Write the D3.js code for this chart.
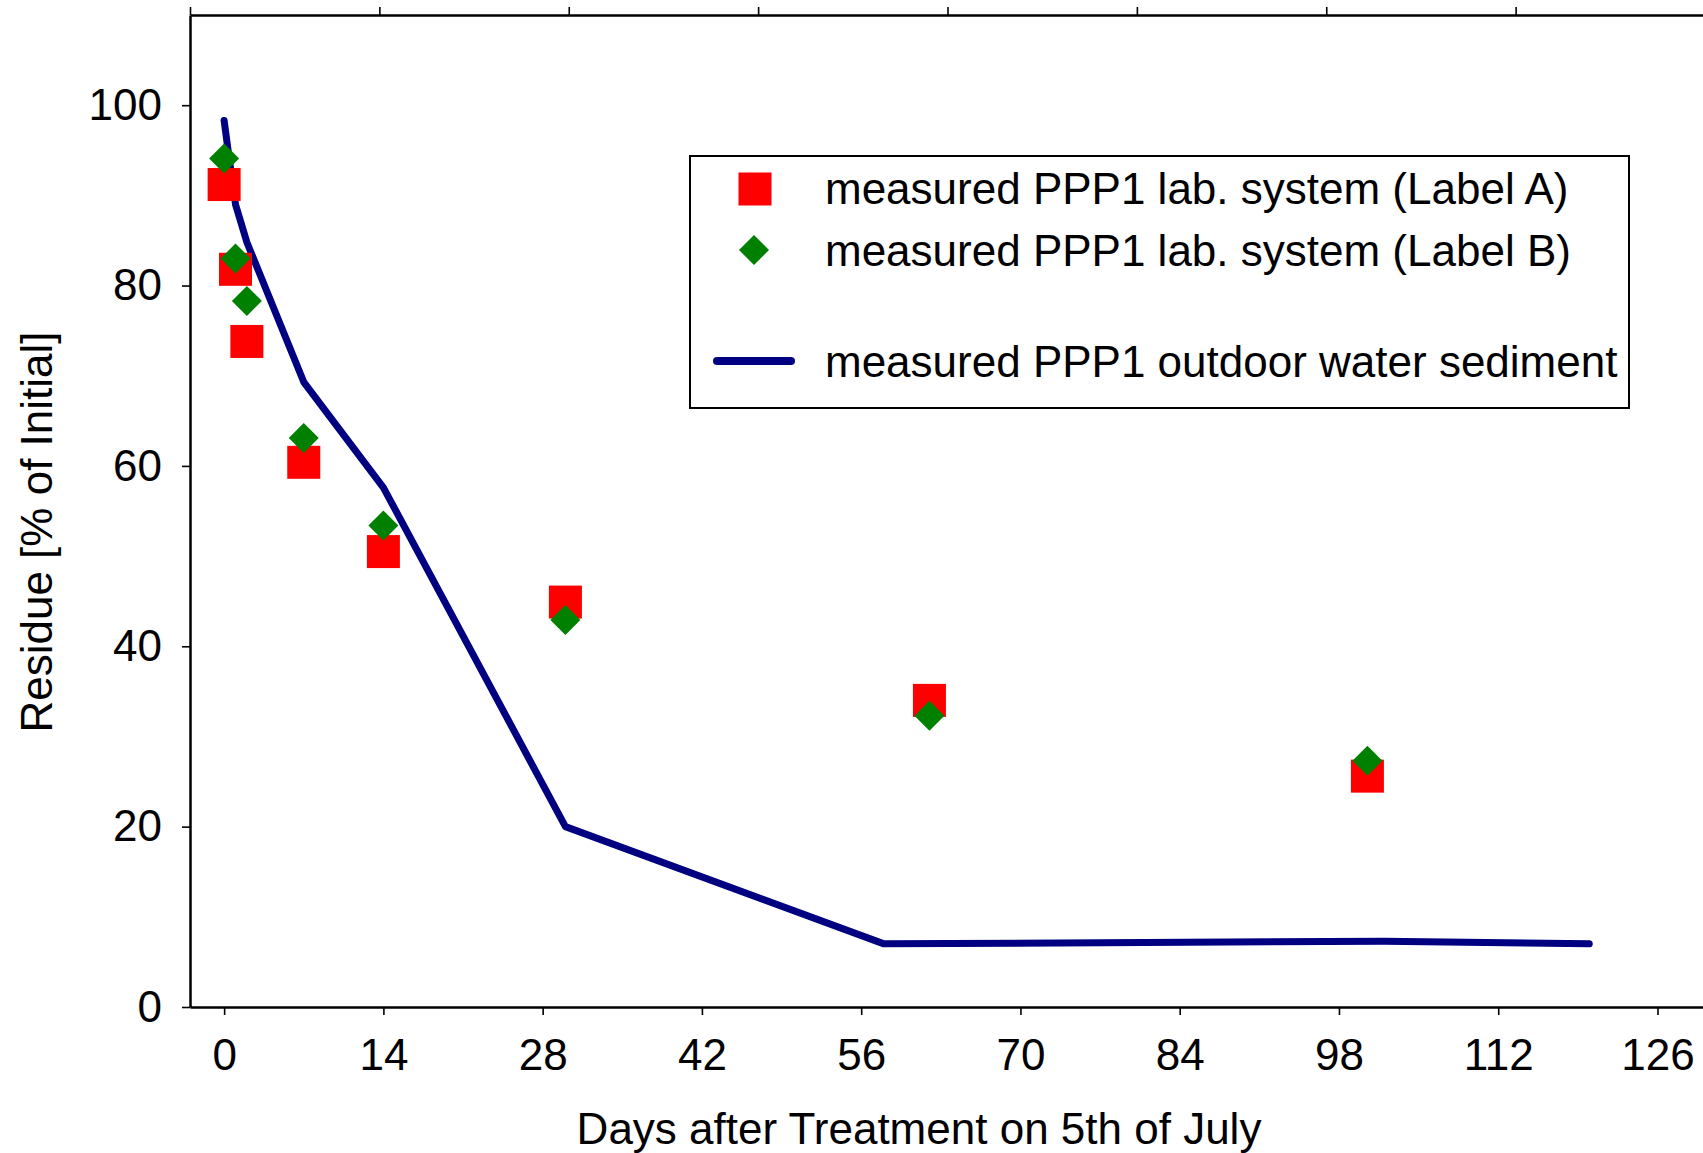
<!DOCTYPE html>
<html>
<head>
<meta charset="utf-8">
<script src="https://cdn.jsdelivr.net/npm/d3@7"></script>
<style>
  body { margin: 0; background: #fff; }
  svg text { font-family: "Liberation Sans", Arial, sans-serif; fill: #000; }
</style>
</head>
<body>
<svg class="main-chart" width="1703" height="1153"></svg>
<script>
// measured lab system, label A (red squares)
var labelADays = [0, 1, 2, 7, 14, 30, 62, 100.5];
var labelAValues = [91.2, 81.8, 73.8, 60.4, 50.5, 44.9, 34.0, 25.6];
// measured lab system, label B (green diamonds)
var labelBDays = [0, 1, 2, 7, 14, 30, 62, 100.5];
var labelBValues = [94.1, 83.0, 78.3, 63.1, 53.4, 42.9, 32.3, 27.3];
// outdoor water sediment (navy line)
var outdoorDays = [0, 0.4, 1, 2, 7, 14, 30, 58, 102, 120];
var outdoorValues = [98.3, 94.5, 89.0, 84.8, 69.3, 57.6, 20.0, 7.0, 7.3, 7.0];

var xTicks = [0, 14, 28, 42, 56, 70, 84, 98, 112, 126];
var yTicks = [0, 20, 40, 60, 80, 100];
var topTicks = [0, 1, 2, 3, 4, 5, 6, 7, 8];

var legendLabels = [
  "measured PPP1 lab. system (Label A)",
  "measured PPP1 lab. system (Label B)",
  "measured PPP1 outdoor water sediment"
];

var svg = d3.select("svg.main-chart");
var fontSize = 44;

var xScale = d3.scaleLinear().domain([-3, 130]).range([190, 1703]);
var yScale = d3.scaleLinear().domain([0, 110]).range([1007, 15]);
var topScale = d3.scaleLinear().domain([0, 8]).range([190, 1705]);

var labelA = labelADays.map((d, i) => ({ day: d, val: labelAValues[i] }));
var labelB = labelBDays.map((d, i) => ({ day: d, val: labelBValues[i] }));
var outdoor = outdoorDays.map((d, i) => ({ day: d, val: outdoorValues[i] }));

////////////////////////////////////////////////////////////////
// axes
////////////////////////////////////////////////////////////////
var xAxis = d3.axisBottom(xScale).tickValues(xTicks).tickSize(8).tickPadding(24).tickSizeOuter(0);
var yAxis = d3.axisLeft(yScale).tickValues(yTicks).tickSize(8).tickPadding(20).tickSizeOuter(0);
var topAxis = d3.axisTop(topScale).tickValues(topTicks).tickSize(8).tickFormat("").tickSizeOuter(0);

var xAxisG = svg.append("g").attr("id", "xAxisG").attr("transform", "translate(0,1007)").call(xAxis);
var yAxisG = svg.append("g").attr("id", "yAxisG").attr("transform", "translate(190,0)").call(yAxis);
var topAxisG = svg.append("g").attr("id", "topAxisG").attr("transform", "translate(0,15)").call(topAxis);

[xAxisG, yAxisG, topAxisG].forEach(function(g) {
  g.select(".domain").attr("stroke", "#000").attr("stroke-width", 2.5);
  g.selectAll(".tick line").attr("stroke", "#000").attr("stroke-width", 1.6);
  g.selectAll(".tick text").attr("font-size", fontSize).attr("font-family", null);
});

xAxisG.selectAll(".tick text").attr("dy", "0.71em");

// axis titles
svg.append("text")
  .text("Days after Treatment on 5th of July")
  .attr("x", 919)
  .attr("y", 1144)
  .attr("text-anchor", "middle")
  .attr("font-size", fontSize);

svg.append("text")
  .text("Residue [% of Initial]")
  .attr("transform", "translate(52,532)rotate(-90)")
  .attr("text-anchor", "middle")
  .attr("font-size", fontSize);

////////////////////////////////////////////////////////////////
// series
////////////////////////////////////////////////////////////////
var line = d3.line()
  .x((d) => xScale(d.day))
  .y((d) => yScale(d.val));

svg.append("path")
  .datum(outdoor)
  .attr("d", line)
  .attr("fill", "none")
  .attr("stroke", "#000080")
  .attr("stroke-width", 7)
  .attr("stroke-linecap", "round")
  .attr("stroke-linejoin", "round");

var sq = 33;
svg.selectAll("rect.labelA")
  .data(labelA)
  .enter()
  .append("rect")
  .attr("class", "labelA")
  .attr("x", (d) => xScale(d.day) - sq / 2)
  .attr("y", (d) => yScale(d.val) - sq / 2)
  .attr("width", sq)
  .attr("height", sq)
  .style("fill", "#ff0000");

var dm = 15;
var diamond = "M0," + (-dm) + "L" + dm + ",0L0," + dm + "L" + (-dm) + ",0Z";
svg.selectAll("path.labelB")
  .data(labelB)
  .enter()
  .append("path")
  .attr("class", "labelB")
  .attr("d", diamond)
  .attr("transform", (d) => "translate(" + xScale(d.day) + "," + yScale(d.val) + ")")
  .style("fill", "#008000");

////////////////////////////////////////////////////////////////
// legend
////////////////////////////////////////////////////////////////
var legend = svg.append("g").attr("class", "legend");

legend.append("rect")
  .attr("x", 690)
  .attr("y", 156)
  .attr("width", 939)
  .attr("height", 252)
  .attr("fill", "#fff")
  .attr("stroke", "#000")
  .attr("stroke-width", 2);

legend.append("rect")
  .attr("x", 755 - sq / 2)
  .attr("y", 189 - sq / 2)
  .attr("width", sq)
  .attr("height", sq)
  .style("fill", "#ff0000");

legend.append("path")
  .attr("d", diamond)
  .attr("transform", "translate(754,250)")
  .style("fill", "#008000");

legend.append("line")
  .attr("x1", 717)
  .attr("x2", 791)
  .attr("y1", 361)
  .attr("y2", 361)
  .attr("stroke", "#000080")
  .attr("stroke-width", 8)
  .attr("stroke-linecap", "round");

var legendY = [204, 266, 377];
legend.selectAll("text")
  .data(legendLabels)
  .enter()
  .append("text")
  .attr("x", 825)
  .attr("y", (d, i) => legendY[i])
  .attr("font-size", fontSize)
  .text((d) => d);
</script>
</body>
</html>
